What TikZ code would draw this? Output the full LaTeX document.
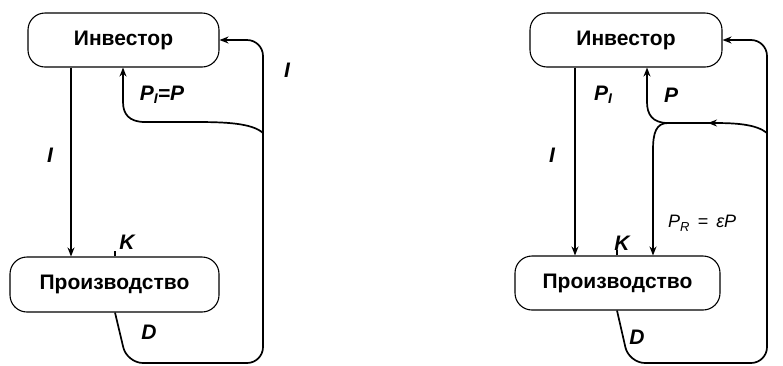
\documentclass[tikz,border=0pt]{standalone}
\usepackage{fontspec}
\setmainfont{Liberation Sans}
\usetikzlibrary{arrows.meta}
\begin{document}
\begin{tikzpicture}[x=1pt,y=-1pt,
  boxnode/.style={draw,line width=1.1pt,rounded corners=17pt,inner sep=0pt,
    font=\fontsize{21}{24}\selectfont\bfseries},
  conn/.style={line width=1.7pt,-{Stealth[length=9pt,width=7pt]}},
  lbl/.style={font=\fontsize{21}{24}\selectfont\bfseries\itshape,inner sep=0pt}]
\useasboundingbox (0,0) rectangle (783,365);
% left diagram
\node[boxnode,minimum width=191pt,minimum height=54pt] (inv1) at (123.5,40) {Инвестор};
\node[boxnode,minimum width=209pt,minimum height=55pt] (prod1) at (114.5,284.5) {Производство};
\coordinate (a1) at (71,0);
\coordinate (k1) at (115,0);
\draw[conn] (inv1.south -| a1) -- (prod1.north -| a1);
\draw[line width=1.1pt] (prod1.north -| k1) -- ++(0,-5);
\draw[conn,rounded corners=16pt] (prod1.south -| k1) -- (127,363) -- (263,363) -- (263,40) -- (inv1.east);
\draw[conn] (263,133) .. controls (252,123) and (225,122) .. (195,122) -- (145,122)
  .. controls (129,122) and (123,114) .. (123,102) -- (inv1.south -| 123,0);
\node[lbl] (i1) at (50,155) {I};
\node[lbl] (i1b) at (287,70) {I};
\node[lbl] (pp1) at (162,95) {P\raisebox{-0.3ex}{\fontsize{14}{14}\selectfont I}=P};
\node[lbl] (kk1) at (127,242) {K};
\node[lbl] (dd1) at (149,332) {D};
% right diagram
\node[boxnode,minimum width=192pt,minimum height=54pt] (inv2) at (626,40) {Инвестор};
\node[boxnode,minimum width=205pt,minimum height=54pt] (prod2) at (617.5,283) {Производство};
\coordinate (a2) at (575,0);
\coordinate (k2) at (617,0);
\coordinate (b2) at (653,0);
\coordinate (c2) at (647,0);
\draw[conn] (inv2.south -| a2) -- (prod2.north -| a2);
\draw[line width=1.1pt] (prod2.north -| k2) -- ++(0,-5);
\draw[conn,rounded corners=16pt] (prod2.south -| k2) -- (629,363) -- (767,363) -- (767,40) -- (inv2.east);
\draw[conn] (767,133) .. controls (756,124) and (735,123) .. (708,123);
\draw[conn] (716,123) -- (668,123) .. controls (652,123) and (647,114) .. (647,102) -- (inv2.south -| c2);
\draw[conn] (668,123) .. controls (656,123) and (653,133) .. (653,150) -- (prod2.north -| b2);
\node[lbl] (i2) at (552,155) {I};
\node[lbl] (pi2) at (603,95) {P\raisebox{-0.3ex}{\fontsize{14}{14}\selectfont I}};
\node[lbl] (p2) at (671,95) {P};
\node[lbl] (kk2) at (622,243) {K};
\node[lbl] (dd2) at (637,337) {D};
\node[inner sep=0pt,anchor=base west,font=\fontsize{18}{20}\selectfont\itshape] (pr2) at (668,227)
  {P\raisebox{-0.45ex}{\fontsize{13}{13}\selectfont R}\hspace{0.45em}=\hspace{0.45em}εP};
\end{tikzpicture}
\end{document}
